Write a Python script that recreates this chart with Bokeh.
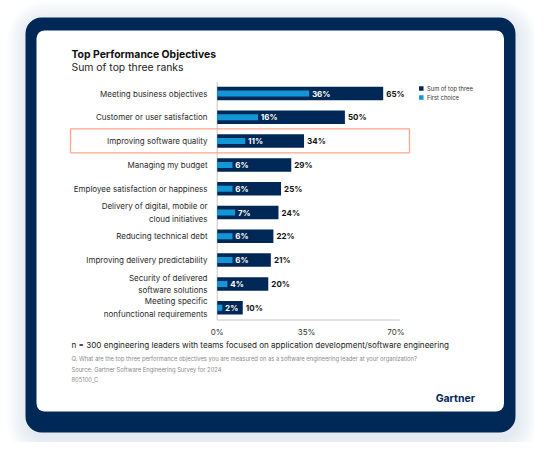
from bokeh.plotting import figure
from bokeh.models import Range1d, BoxAnnotation, Label
from bokeh.core.properties import value
from bokeh.embed import file_html
from bokeh.resources import INLINE

# ---------------- data ----------------
categories = [
    "Meeting business objectives",
    "Customer or user satisfaction",
    "Improving software quality",
    "Managing my budget",
    "Employee satisfaction or happiness",
    "Delivery of digital, mobile or\ncloud initiatives",
    "Reducing technical debt",
    "Improving delivery predictability",
    "Security of delivered\nsoftware solutions",
    "Meeting specific\nnonfunctional requirements",
]
sum_top_three = [65, 50, 34, 29, 25, 24, 22, 21, 20, 10]
first_choice = [36, 16, 11, 6, 6, 7, 6, 6, 4, 2]
x_ticks = [0, 35, 70]
x_tick_labels = ["0%", "35%", "70%"]
series_names = ["Sum of top three", "First choice"]
highlight_index = 2

# ---------------- styling ----------------
NAVY = "#002856"
BLUE = "#1396d5"
SALMON = "#ffa58c"
FONT = "Inter"
W, H = 534, 442
OFF = 0  # canvas origin in picture coordinates

# pixel geometry (picture coordinates)
ZERO_PX = 216.7
PX_PER_PCT = 2.554
ROW0_PX = 93.0
ROW_STEP = 23.8

x_start = -(ZERO_PX - OFF) / PX_PER_PCT
x_end = (W - (ZERO_PX - OFF)) / PX_PER_PCT
y_top = -(ROW0_PX - OFF) / ROW_STEP
y_bottom = (H - (ROW0_PX - OFF)) / ROW_STEP


def X(px):
    return x_start + (px - OFF) / W * (x_end - x_start)


def Y(py):
    return y_top + (py - OFF) / H * (y_bottom - y_top)


p = figure(width=W, height=H, output_backend="svg", toolbar_location=None,
           x_range=Range1d(x_start, x_end), y_range=Range1d(y_bottom, y_top),
           x_axis_type=None, y_axis_type=None, min_border=0)
p.min_border_left = p.min_border_right = p.min_border_top = p.min_border_bottom = 0
p.xgrid.visible = False
p.ygrid.visible = False
p.outline_line_color = None
p.background_fill_color = "white"
p.border_fill_color = "white"

# soft shadow
for k in range(7):
    g = 2 + k * 3
    p.add_layout(BoxAnnotation(left=X(25 - g + 2), right=X(515 + g + 2),
                               top=Y(17 - g + 5), bottom=Y(432 + g + 5),
                               fill_color="#8c9bb5", fill_alpha=0.03, line_color=None,
                               border_radius=16 + g, level="underlay"))
# navy frame and white card
p.add_layout(BoxAnnotation(left=X(25), right=X(515), top=Y(17), bottom=Y(432),
                           fill_color=NAVY, fill_alpha=1, line_color=None,
                           border_radius=16, level="underlay"))
p.add_layout(BoxAnnotation(left=X(36), right=X(503.5), top=Y(30), bottom=Y(411),
                           fill_color="white", fill_alpha=1, line_color=None,
                           border_radius=8, level="underlay"))

rows = list(range(len(categories)))

# axes lines
p.line(x=[0, 0], y=[Y(81.5), Y(319.5)], line_color="#c4c4c4", line_width=1)
p.line(x=[0, 71.5], y=[Y(319.5), Y(319.5)], line_color="#c4c4c4", line_width=1)

# bars
p.hbar(y=rows, left=0, right=sum_top_three, height=13.5 / ROW_STEP,
       fill_color=NAVY, line_color=None)
p.hbar(y=rows, left=0, right=first_choice, height=6 / ROW_STEP,
       fill_color=BLUE, line_color=None)

# value labels
p.text(x=[v + 1.1 for v in first_choice], y=rows, text=[f"{v}%" for v in first_choice],
       text_font=value(FONT), text_font_style="bold", text_font_size="8px",
       text_color="white", text_align="left", text_baseline="middle")
p.text(x=[v + 1.2 for v in sum_top_three], y=rows, text=[f"{v}%" for v in sum_top_three],
       text_font=value(FONT), text_font_style="bold", text_font_size="8px",
       text_color="#111111", text_align="left", text_baseline="middle")

# category labels
p.text(x=[X(207)] * len(rows), y=rows, text=categories,
       text_font=value(FONT), text_font_size="8px", text_color="#2a2a2a",
       text_align="right", text_baseline="middle", text_line_height=1.25)

# tick labels
p.text(x=x_ticks, y=[Y(331.7)] * len(x_ticks), text=x_tick_labels,
       text_font=value(FONT), text_font_size="8px", text_color="#333333",
       text_align="center", text_baseline="middle")

# highlight box around one row
p.add_layout(BoxAnnotation(left=X(70), right=X(409),
                           top=highlight_index - 12.3 / ROW_STEP,
                           bottom=highlight_index + 11.7 / ROW_STEP,
                           fill_alpha=0, line_color=SALMON, line_alpha=1,
                           line_width=1.3))

# legend
p.scatter(x=[X(420.8)] * 2, y=[Y(88), Y(97)], marker="square", size=4.5,
          fill_color=[NAVY, BLUE], line_color=None)
for name, yy in zip(series_names, [88, 97]):
    p.add_layout(Label(x=X(426.5), y=Y(yy), text=name, text_font=FONT,
                       text_font_size="5.8px", text_color="#333333",
                       text_baseline="middle", text_align="left"))

# titles
p.add_layout(Label(x=X(71), y=Y(54), text="Top Performance Objectives", text_font=FONT,
                   text_font_style="bold", text_font_size="10.4px", text_color="#111111",
                   text_baseline="middle"))
p.add_layout(Label(x=X(71), y=Y(66.5), text="Sum of top three ranks", text_font=FONT,
                   text_font_size="10.4px", text_color="#222222", text_baseline="middle"))

# notes
p.add_layout(Label(x=X(71), y=Y(344.3),
                   text="n = 300 engineering leaders with teams focused on application development/software engineering",
                   text_font=FONT, text_font_size="8.1px", text_color="#1a1a1a",
                   text_baseline="middle"))
notes = [
    ("Q. What are the top three performance objectives you are measured on as a software engineering leader at your organization?", 358.3),
    ("Source: Gartner Software Engineering Survey for 2024", 368.8),
    ("805100_C", 379),
]
for t, yy in notes:
    p.add_layout(Label(x=X(71), y=Y(yy), text=t, text_font=FONT, text_font_size="5.8px",
                       text_color="#8a8a8a", text_baseline="middle"))

p.add_layout(Label(x=X(474.5), y=Y(398.3), text="Gartner", text_font=FONT,
                   text_font_style="bold", text_font_size="10.5px", text_color=NAVY,
                   text_baseline="middle", text_align="right"))

open("out.html", "w").write(file_html(p, INLINE))
